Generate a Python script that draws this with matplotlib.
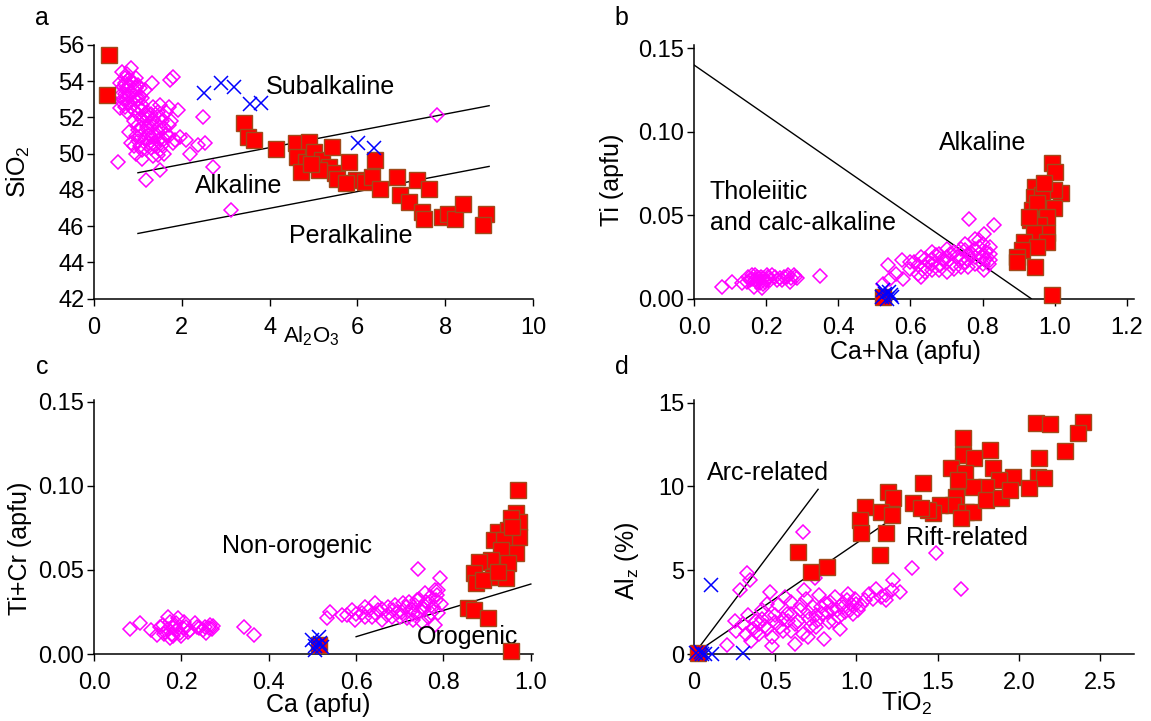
import numpy as np
import matplotlib.pyplot as plt

plt.rcParams['font.family'] = ['Liberation Sans', 'DejaVu Sans']
plt.rcParams['mathtext.fontset'] = 'custom'
plt.rcParams['mathtext.rm'] = 'Liberation Sans'
plt.rcParams['mathtext.it'] = 'Liberation Sans:italic'
plt.rcParams['font.size'] = 17

# ---- a: SiO2 vs Al2O3 ----
a_cpx = np.array([
    (0.55, 49.55), (1.19, 48.54), (1.50, 49.09), (1.91, 52.41), (2.48, 52.00),
    (2.10, 50.75), (2.18, 50.01), (2.37, 50.48), (2.52, 50.57), (2.71, 49.28),
    (1.31, 53.88), (1.80, 54.25), (1.72, 54.07), (0.63, 54.53), (0.85, 54.71),
    (3.12, 46.88), (7.81, 52.13), (1.46, 49.92), (1.84, 50.75), (1.95, 50.94),
    (0.60, 53.90), (0.70, 54.20), (0.75, 53.60), (0.80, 53.20), (0.85, 54.00),
    (0.90, 53.50), (0.95, 52.90), (1.00, 53.80), (0.65, 53.00), (0.70, 52.60),
    (0.90, 52.40), (1.05, 53.20), (1.10, 52.70), (0.55, 53.40), (0.80, 52.80),
    (1.00, 52.20), (1.15, 53.50), (0.75, 54.40), (1.20, 52.30), (0.60, 52.50),
    (0.90, 51.80), (1.00, 51.30), (1.10, 51.90), (1.20, 51.50), (1.30, 52.20),
    (1.40, 51.70), (1.50, 52.00), (1.60, 51.40), (1.70, 51.00), (1.50, 50.80),
    (1.40, 50.40), (1.30, 50.90), (1.20, 50.50), (1.10, 50.20), (1.00, 50.70),
    (0.85, 50.60), (0.80, 51.20), (1.25, 51.10), (1.45, 51.20), (1.55, 50.50),
    (1.65, 52.30), (1.75, 51.80), (1.35, 49.90), (0.95, 50.00), (1.10, 49.70),
    (1.60, 50.00), (1.80, 50.60), (1.70, 52.60), (1.50, 52.70), (1.35, 52.60),
    (0.65, 53.70), (0.70, 53.30), (0.75, 53.00), (0.80, 53.80), (0.85, 53.40),
    (0.90, 53.10), (0.95, 53.60), (1.00, 53.00), (0.70, 53.90), (0.80, 54.10),
    (0.90, 53.90), (0.95, 54.20), (1.05, 53.60), (1.10, 53.10), (0.60, 53.20),
    (0.85, 52.60), (0.75, 52.30), (1.00, 52.60), (1.10, 52.40), (0.65, 52.80),
    (1.00, 51.60), (1.05, 51.00), (1.10, 51.40), (1.15, 50.80), (1.20, 51.90),
    (1.25, 50.60), (1.30, 51.40), (1.35, 51.90), (1.40, 51.00), (1.45, 50.70),
    (1.50, 51.50), (1.55, 51.80), (1.60, 50.80), (1.65, 51.10), (1.70, 51.60),
    (1.20, 52.10), (1.30, 50.30), (1.05, 50.40), (0.95, 51.00), (0.90, 50.40),
    (1.45, 52.30), (1.15, 52.20), (1.35, 50.60), (1.50, 50.20), (1.25, 51.70),
])
a_gt = np.array([
    (0.35, 55.45), (0.30, 53.24), (3.42, 51.67), (3.50, 50.94), (3.65, 50.75),
    (4.14, 50.24), (4.60, 50.57), (4.90, 50.66), (4.63, 49.83), (4.82, 49.55),
    (4.71, 49.00), (5.01, 50.11), (5.20, 49.65), (5.43, 50.38), (5.35, 49.28),
    (5.50, 48.91), (5.54, 48.63), (5.80, 49.55), (5.96, 48.54), (6.18, 48.45),
    (6.41, 49.65), (6.33, 48.73), (6.52, 48.08), (6.90, 48.73), (6.98, 47.71),
    (7.17, 47.34), (7.35, 48.54), (7.47, 46.79), (7.51, 46.42), (7.62, 48.08),
    (7.92, 46.52), (8.07, 46.70), (8.22, 46.42), (8.41, 47.25), (8.94, 46.70),
    (8.87, 46.06), (5.12, 49.09), (4.94, 49.46), (5.73, 48.36),
])
a_cross = np.array([
    (2.50, 53.33), (2.89, 53.92), (3.18, 53.70), (3.56, 52.74), (3.80, 52.78),
    (6.02, 50.57), (6.37, 50.29),
])
a_upper = np.array([(1.0, 48.95), (9.0, 52.65)])
a_lower = np.array([(1.0, 45.60), (9.0, 49.30)])

# ---- b: Ti vs Ca+Na ----
b_cpx = np.array([
    (0.077, 0.0072), (0.105, 0.0102), (0.132, 0.0092), (0.155, 0.0112), (0.165, 0.0072),
    (0.174, 0.0132), (0.183, 0.0092), (0.192, 0.0122), (0.202, 0.0142), (0.188, 0.0062),
    (0.211, 0.0112), (0.225, 0.0132), (0.239, 0.0122), (0.257, 0.0132), (0.276, 0.0142),
    (0.266, 0.0102), (0.285, 0.0122), (0.350, 0.0136), (0.146, 0.0102), (0.160, 0.0142),
    (0.180, 0.0122), (0.170, 0.0112), (0.196, 0.0102), (0.215, 0.0142), (0.245, 0.0112),
    (0.270, 0.0122), (0.160, 0.0120), (0.175, 0.0100), (0.185, 0.0130), (0.190, 0.0090),
    (0.200, 0.0110), (0.205, 0.0130), (0.150, 0.0130), (0.170, 0.0140), (0.230, 0.0110),
    (0.260, 0.0140), (0.280, 0.0130), (0.250, 0.0130),
    (0.525, 0.0090), (0.544, 0.0120), (0.539, 0.0200), (0.576, 0.0230), (0.600, 0.0180),
    (0.610, 0.0220), (0.620, 0.0150), (0.630, 0.0250), (0.640, 0.0190), (0.650, 0.0220),
    (0.660, 0.0170), (0.670, 0.0260), (0.680, 0.0200), (0.690, 0.0240), (0.700, 0.0160),
    (0.710, 0.0270), (0.720, 0.0210), (0.730, 0.0250), (0.740, 0.0190), (0.750, 0.0290),
    (0.760, 0.0230), (0.770, 0.0270), (0.780, 0.0210), (0.790, 0.0310), (0.800, 0.0250),
    (0.810, 0.0280), (0.820, 0.0230), (0.761, 0.0480), (0.831, 0.0440), (0.803, 0.0390),
    (0.817, 0.0210), (0.803, 0.0170), (0.790, 0.0350), (0.750, 0.0330), (0.780, 0.0360),
    (0.630, 0.0130), (0.700, 0.0300), (0.660, 0.0280), (0.580, 0.0120), (0.560, 0.0150),
    (0.620, 0.0200), (0.640, 0.0240), (0.660, 0.0210), (0.680, 0.0170), (0.680, 0.0270),
    (0.700, 0.0220), (0.720, 0.0180), (0.720, 0.0280), (0.740, 0.0240), (0.740, 0.0300),
    (0.760, 0.0270), (0.760, 0.0190), (0.780, 0.0250), (0.780, 0.0300), (0.800, 0.0210),
    (0.800, 0.0330), (0.820, 0.0270), (0.820, 0.0310), (0.700, 0.0250), (0.660, 0.0240),
    (0.640, 0.0160), (0.600, 0.0220), (0.750, 0.0220), (0.790, 0.0270), (0.810, 0.0240),
])
b_gt = np.array([
    (0.993, 0.0811), (1.002, 0.0761), (0.946, 0.0671), (1.016, 0.0631), (0.997, 0.0651),
    (0.942, 0.0611), (0.965, 0.0621), (0.997, 0.0541), (0.937, 0.0531), (0.951, 0.0571),
    (0.979, 0.0491), (0.932, 0.0471), (0.956, 0.0441), (0.979, 0.0391), (0.942, 0.0391),
    (0.914, 0.0342), (0.979, 0.0342), (0.951, 0.0312), (0.909, 0.0292), (0.895, 0.0252),
    (0.895, 0.0222), (0.946, 0.0192), (0.993, 0.0022), (0.969, 0.0691), (0.928, 0.0491),
    (0.525, 0.0012),
])
b_cross = np.array([
    (0.520, 0.001), (0.530, 0.003), (0.540, 0.004), (0.545, 0.002), (0.535, 0.000),
    (0.525, 0.005), (0.550, 0.001),
])
b_line = np.array([(0.0, 0.140), (0.935, 0.0)])

# ---- c: Ti+Cr vs Ca ----
c_cpx = np.array([
    (0.082, 0.0147), (0.105, 0.0182), (0.131, 0.0143), (0.143, 0.0113), (0.150, 0.0162),
    (0.162, 0.0133), (0.169, 0.0222), (0.173, 0.0093), (0.180, 0.0153), (0.188, 0.0182),
    (0.192, 0.0212), (0.196, 0.0123), (0.203, 0.0153), (0.215, 0.0133), (0.230, 0.0182),
    (0.241, 0.0153), (0.253, 0.0162), (0.264, 0.0153), (0.272, 0.0166), (0.256, 0.0123),
    (0.344, 0.0162), (0.367, 0.0113), (0.158, 0.0170), (0.178, 0.0120),
    (0.160, 0.0120), (0.170, 0.0150), (0.180, 0.0110), (0.185, 0.0170), (0.190, 0.0140),
    (0.200, 0.0110), (0.210, 0.0160), (0.220, 0.0140), (0.235, 0.0160), (0.250, 0.0140),
    (0.265, 0.0170), (0.270, 0.0150), (0.175, 0.0190), (0.205, 0.0190),
    (0.533, 0.0212), (0.541, 0.0252), (0.568, 0.0232), (0.590, 0.0262), (0.598, 0.0202),
    (0.613, 0.0242), (0.621, 0.0281), (0.636, 0.0222), (0.651, 0.0262), (0.659, 0.0202),
    (0.674, 0.0281), (0.681, 0.0222), (0.697, 0.0252), (0.708, 0.0301), (0.716, 0.0212),
    (0.727, 0.0262), (0.739, 0.0321), (0.742, 0.0242), (0.750, 0.0281), (0.757, 0.0361),
    (0.765, 0.0301), (0.772, 0.0242), (0.780, 0.0380), (0.784, 0.0321), (0.788, 0.0242),
    (0.780, 0.0172), (0.741, 0.0503), (0.791, 0.0450), (0.788, 0.0380), (0.643, 0.0301),
    (0.580, 0.0230), (0.700, 0.0220),
    (0.600, 0.0240), (0.620, 0.0220), (0.630, 0.0260), (0.645, 0.0240), (0.660, 0.0270),
    (0.670, 0.0230), (0.685, 0.0260), (0.690, 0.0290), (0.705, 0.0250), (0.715, 0.0280),
    (0.720, 0.0310), (0.730, 0.0240), (0.735, 0.0290), (0.745, 0.0330), (0.755, 0.0270),
    (0.760, 0.0310), (0.770, 0.0340), (0.775, 0.0280), (0.785, 0.0350), (0.795, 0.0300),
    (0.765, 0.0220), (0.750, 0.0190), (0.730, 0.0200),
])
c_gt = np.array([
    (0.970, 0.0975), (0.966, 0.0836), (0.973, 0.0787), (0.954, 0.0806), (0.924, 0.0727),
    (0.947, 0.0737), (0.973, 0.0697), (0.916, 0.0678), (0.939, 0.0678), (0.966, 0.0598),
    (0.932, 0.0618), (0.909, 0.0559), (0.947, 0.0539), (0.882, 0.0549), (0.871, 0.0479),
    (0.913, 0.0460), (0.943, 0.0450), (0.875, 0.0420), (0.890, 0.0440), (0.924, 0.0489),
    (0.856, 0.0271), (0.871, 0.0262), (0.901, 0.0212), (0.954, 0.0020), (0.514, 0.0053),
    (0.958, 0.0757),
])
c_cross = np.array([
    (0.499, 0.0083), (0.514, 0.0103), (0.522, 0.0044), (0.507, 0.0024), (0.518, 0.0063),
    (0.505, 0.0050),
])
c_line = np.array([(0.6, 0.0103), (1.0, 0.0416)])

# ---- d: Alz vs TiO2 ----
d_cpx = np.array([
    (0.672, 7.30), (1.492, 6.05), (1.645, 3.86), (1.344, 5.11), (0.324, 4.81),
    (0.344, 4.42), (0.283, 3.82), (0.467, 3.72), (0.201, 0.54), (0.744, 4.52),
    (1.225, 4.42), (1.266, 3.72), (1.184, 3.22),
    (0.30, 1.8), (0.33, 2.3), (0.36, 1.5), (0.38, 2.0), (0.40, 1.2), (0.42, 2.6),
    (0.44, 1.7), (0.46, 2.2), (0.48, 1.0), (0.50, 1.9), (0.52, 2.9), (0.55, 1.4),
    (0.57, 2.4), (0.60, 3.1), (0.62, 1.8), (0.65, 2.6), (0.67, 1.2), (0.69, 3.3),
    (0.71, 2.1), (0.73, 2.8), (0.75, 1.6), (0.77, 3.5), (0.79, 2.4), (0.81, 3.0),
    (0.83, 1.9), (0.85, 2.7), (0.87, 3.4), (0.89, 2.2), (0.91, 3.0), (0.93, 2.5),
    (0.95, 3.6), (0.97, 2.9), (0.99, 3.3), (1.01, 2.6), (0.80, 0.9), (0.62, 0.6),
    (0.48, 0.5), (0.35, 0.8), (1.05, 3.2), (1.08, 3.6), (1.12, 3.9), (1.15, 3.4),
    (0.90, 1.5), (0.70, 1.0), (0.58, 2.0), (0.26, 1.4), (0.25, 2.0), (0.56, 3.4),
    (0.68, 3.8), (0.45, 3.0),
    (0.40, 1.8), (0.45, 1.5), (0.50, 2.3), (0.55, 2.1), (0.60, 2.4), (0.64, 2.0),
    (0.70, 2.5), (0.72, 1.7), (0.75, 2.3), (0.78, 2.8), (0.82, 2.5), (0.84, 3.1),
    (0.88, 2.6), (0.92, 2.8), (0.94, 3.2), (0.98, 2.4), (1.00, 3.0), (1.03, 2.9),
    (0.86, 2.0), (0.66, 2.9), (0.53, 1.6), (0.38, 1.3), (0.32, 1.2), (0.42, 2.1),
    (0.60, 1.4), (0.76, 2.0), (0.96, 2.6), (1.10, 3.3), (1.18, 3.5), (1.22, 3.8),
])
d_gt = np.array([
    (2.107, 13.77), (2.195, 13.71), (2.393, 13.87), (2.363, 13.17), (2.285, 12.11),
    (2.127, 11.68), (2.117, 10.58), (2.158, 10.48), (2.061, 9.93), (1.656, 12.87),
    (1.820, 12.17), (1.656, 11.88), (1.725, 11.68), (1.584, 11.08), (1.668, 10.78),
    (1.840, 11.08), (1.963, 10.58), (1.881, 10.38), (1.799, 9.99), (1.717, 9.99),
    (1.625, 10.38), (1.615, 9.39), (1.594, 8.89), (1.676, 8.49), (1.717, 8.49),
    (1.645, 8.10), (1.799, 9.19), (1.891, 9.29), (1.943, 9.79), (1.410, 10.19),
    (1.512, 8.89), (1.471, 8.39), (1.441, 8.59), (1.348, 8.99), (1.399, 8.69),
    (1.195, 9.69), (1.225, 9.29), (1.154, 8.49), (1.217, 8.30), (1.051, 8.79),
    (1.020, 8.00), (1.031, 7.20), (1.184, 7.20), (1.143, 5.91), (0.641, 6.11),
    (0.723, 4.91), (0.816, 5.21), (0.027, 0.04),
])
d_cross = np.array([
    (0.102, 4.12), (0.010, 0.05), (0.040, 0.15), (0.070, 0.00), (0.110, 0.00),
    (0.303, 0.04), (0.050, 0.00),
])
d_arc = np.array([(0.0, 0.0), (0.764, 9.83)])
d_rift = np.array([(0.0, 0.0), (1.20, 7.94)])

a_xticks = [0, 2, 4, 6, 8, 10]
a_yticks = [42, 44, 46, 48, 50, 52, 54, 56]
b_xticks = [0.0, 0.2, 0.4, 0.6, 0.8, 1.0, 1.2]
b_yticks = [0.0, 0.05, 0.10, 0.15]
c_xticks = [0.0, 0.2, 0.4, 0.6, 0.8, 1.0]
c_yticks = [0.0, 0.05, 0.10, 0.15]
d_xticks = [0, 0.5, 1.0, 1.5, 2.0, 2.5]
d_xticklabels = ['0', '0.5', '1.0', '1.5', '2.0', '2.5']
d_yticks = [0, 5, 10, 15]


def style(ax):
    for s in ('top', 'right'):
        ax.spines[s].set_visible(False)
    for s in ('left', 'bottom'):
        ax.spines[s].set_linewidth(1.1)
    ax.tick_params(direction='out', length=5, width=1, labelsize=17)
    ax.tick_params(axis='x', pad=8)
    ax.tick_params(axis='y', pad=2)


def points(ax, cpx, gt, cross):
    ax.plot(cpx[:, 0], cpx[:, 1], 'D', ls='none', mfc='none', mec='#ff00ff',
            ms=7.2, mew=1.1, clip_on=False, zorder=3)
    ax.plot(gt[:, 0], gt[:, 1], 's', ls='none', mfc='#ff0000', mec='#a04a1a',
            ms=11.5, mew=1.0, clip_on=False, zorder=4)
    ax.plot(cross[:, 0], cross[:, 1], 'x', ls='none', color='#0000ff',
            ms=9.5, mew=1.1, clip_on=False, zorder=5)


def line(ax, seg):
    ax.plot(seg[:, 0], seg[:, 1], color='black', lw=1.0, zorder=2)


fig = plt.figure(figsize=(11.51, 7.21), dpi=100)
ax_a = fig.add_axes([0.0817, 0.5857, 0.3814, 0.3519])
ax_b = fig.add_axes([0.6030, 0.5857, 0.3823, 0.3519])
ax_c = fig.add_axes([0.0817, 0.0929, 0.3814, 0.3523])
ax_d = fig.add_axes([0.6030, 0.0929, 0.3823, 0.3523])

# a
style(ax_a)
line(ax_a, a_upper)
line(ax_a, a_lower)
points(ax_a, a_cpx, a_gt, a_cross)
ax_a.set_xlim(0, 10)
ax_a.set_ylim(42, 56)
ax_a.set_xticks(a_xticks)
ax_a.set_yticks(a_yticks)
ax_a.text(3.92, 53.7, 'Subalkaline', fontsize=18, va='center')
ax_a.text(2.31, 48.2, 'Alkaline', fontsize=18, va='center')
ax_a.text(4.44, 45.45, 'Peralkaline', fontsize=18, va='center')
ax_a.text(0.495, -0.10, r'Al$_\mathregular{2}$O$_\mathregular{3}$', transform=ax_a.transAxes,
          fontsize=16, ha='center', va='top')
ax_a.text(-0.173, 0.5, r'SiO$_\mathregular{2}$', transform=ax_a.transAxes,
          fontsize=18, ha='center', va='center', rotation=90)

# b
style(ax_b)
line(ax_b, b_line)
points(ax_b, b_cpx, b_gt, b_cross)
ax_b.set_xlim(0, 1.22)
ax_b.set_ylim(0, 0.152)
ax_b.set_xticks(b_xticks)
ax_b.set_xticklabels([f'{v:.1f}' for v in b_xticks])
ax_b.set_yticks(b_yticks)
ax_b.set_yticklabels([f'{v:.2f}' for v in b_yticks])
ax_b.text(0.678, 0.0933, 'Alkaline', fontsize=18, va='center')
ax_b.text(0.044, 0.0641, 'Tholeiitic', fontsize=18, va='center')
ax_b.text(0.044, 0.0452, 'and calc-alkaline', fontsize=18, va='center')
ax_b.text(0.48, -0.163, 'Ca+Na (apfu)', transform=ax_b.transAxes,
          fontsize=18, ha='center', va='top')
ax_b.text(-0.186, 0.468, 'Ti (apfu)', transform=ax_b.transAxes,
          fontsize=18, ha='center', va='center', rotation=90)

# c
style(ax_c)
line(ax_c, c_line)
points(ax_c, c_cpx, c_gt, c_cross)
ax_c.set_xlim(0, 1.005)
ax_c.set_ylim(0, 0.151)
ax_c.set_xticks(c_xticks)
ax_c.set_xticklabels([f'{v:.1f}' for v in c_xticks])
ax_c.set_yticks(c_yticks)
ax_c.set_yticklabels([f'{v:.2f}' for v in c_yticks])
ax_c.text(0.294, 0.0644, 'Non-orogenic', fontsize=18, va='center')
ax_c.text(0.738, 0.0103, 'Orogenic', fontsize=18, va='center')
ax_c.text(0.51, -0.154, 'Ca (apfu)', transform=ax_c.transAxes,
          fontsize=18, ha='center', va='top')
ax_c.text(-0.169, 0.417, 'Ti+Cr (apfu)', transform=ax_c.transAxes,
          fontsize=18, ha='center', va='center', rotation=90)

# d
style(ax_d)
line(ax_d, d_arc)
line(ax_d, d_rift)
points(ax_d, d_cpx, d_gt, d_cross)
ax_d.set_xlim(0, 2.71)
ax_d.set_ylim(0, 15.16)
ax_d.set_xticks(d_xticks)
ax_d.set_xticklabels(d_xticklabels)
ax_d.set_yticks(d_yticks)
ax_d.text(0.078, 10.79, 'Arc-related', fontsize=18, va='center')
ax_d.text(1.307, 6.92, 'Rift-related', fontsize=18, va='center')
ax_d.text(0.484, -0.142, r'TiO$_\mathregular{2}$', transform=ax_d.transAxes,
          fontsize=18, ha='center', va='top')
ax_d.text(-0.152, 0.365, r'Al$_\mathregular{z}$ (%)', transform=ax_d.transAxes,
          fontsize=18, ha='center', va='center', rotation=90)

# panel letters
for letter, px, py in (('a', 42, 18), ('b', 621, 18), ('c', 42, 367), ('d', 622, 367)):
    fig.text(px / 1151, 1 - py / 721, letter, fontsize=18, ha='center', va='center')

fig.savefig('out.png', dpi=100)
